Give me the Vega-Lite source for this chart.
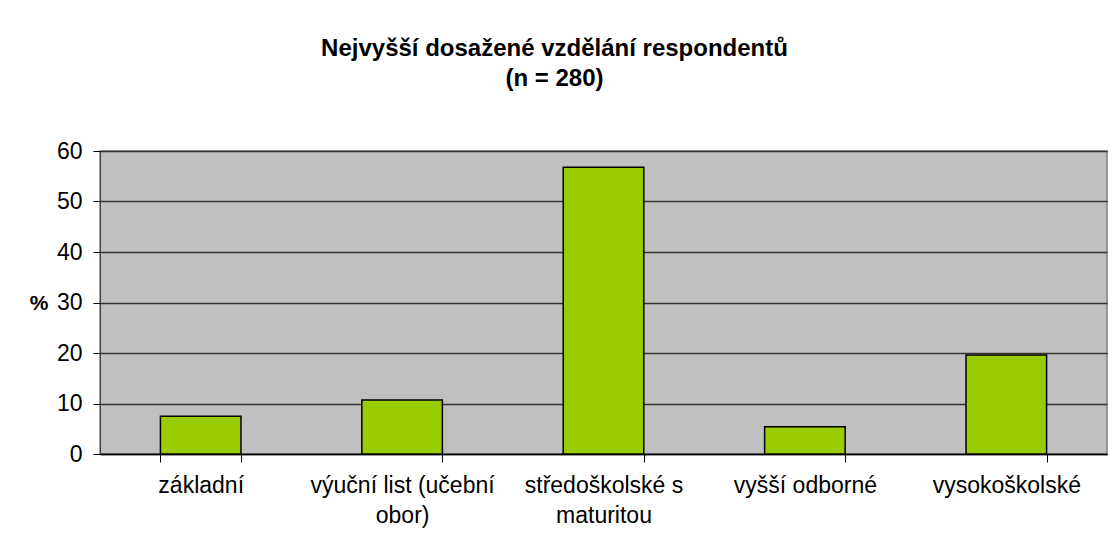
{
  "$schema": "https://vega.github.io/schema/vega-lite/v6.json",
  "width": 1007,
  "height": 303,
  "autosize": {"type": "none"},
  "padding": {"left": 100, "top": 151, "right": 2, "bottom": 95},
  "background": "white",
  "title": {
    "text": ["Nejvyšší dosažené vzdělání respondentů", "(n = 280)"],
    "font": "Arial",
    "fontSize": 24,
    "fontWeight": "bold",
    "color": "black",
    "anchor": "middle",
    "frame": "group",
    "dx": -49,
    "offset": 49,
    "lineHeight": 30
  },
  "data": {
    "values": [
      {"kategorie": "základní", "procent": 7.5},
      {"kategorie": "výuční list (učební|obor)", "procent": 10.7},
      {"kategorie": "středoškolské s|maturitou", "procent": 56.8},
      {"kategorie": "vyšší odborné", "procent": 5.4},
      {"kategorie": "vysokoškolské", "procent": 19.6}
    ]
  },
  "mark": {"type": "bar", "fill": "#99CC00", "stroke": "black", "strokeWidth": 1.5},
  "encoding": {
    "x": {
      "field": "kategorie",
      "type": "nominal",
      "sort": null,
      "scale": {"paddingInner": 0.6, "paddingOuter": 0.3},
      "axis": {
        "title": null,
        "labelAngle": 0,
        "labelExpr": "split(datum.label, '|')",
        "labelFont": "Arial",
        "labelFontSize": 23,
        "labelColor": "black",
        "labelLineHeight": 30,
        "labelPadding": 12,
        "labelBaseline": "top",
        "labelLimit": 400,
        "tickBand": "extent",
        "tickSize": 8,
        "tickColor": "black",
        "domainColor": "black",
        "domainWidth": 1.5,
        "grid": false
      }
    },
    "y": {
      "field": "procent",
      "type": "quantitative",
      "scale": {"domain": [0, 60], "nice": false},
      "axis": {
        "title": "%",
        "titleAngle": 0,
        "titleFont": "Arial",
        "titleFontSize": 21,
        "titleFontWeight": "bold",
        "titleColor": "black",
        "titleAlign": "right",
        "titleBaseline": "middle",
        "titleX": -52,
        "titleY": 152,
        "values": [0, 10, 20, 30, 40, 50, 60],
        "labelFont": "Arial",
        "labelFontSize": 23,
        "labelColor": "black",
        "labelPadding": 11,
        "tickSize": 7,
        "tickColor": "black",
        "domainColor": "#404040",
        "grid": true,
        "gridColor": "#333333",
        "gridWidth": 1.5
      }
    }
  },
  "config": {
    "view": {"fill": "#C0C0C0", "stroke": "#808080", "strokeWidth": 1.5}
  }
}
